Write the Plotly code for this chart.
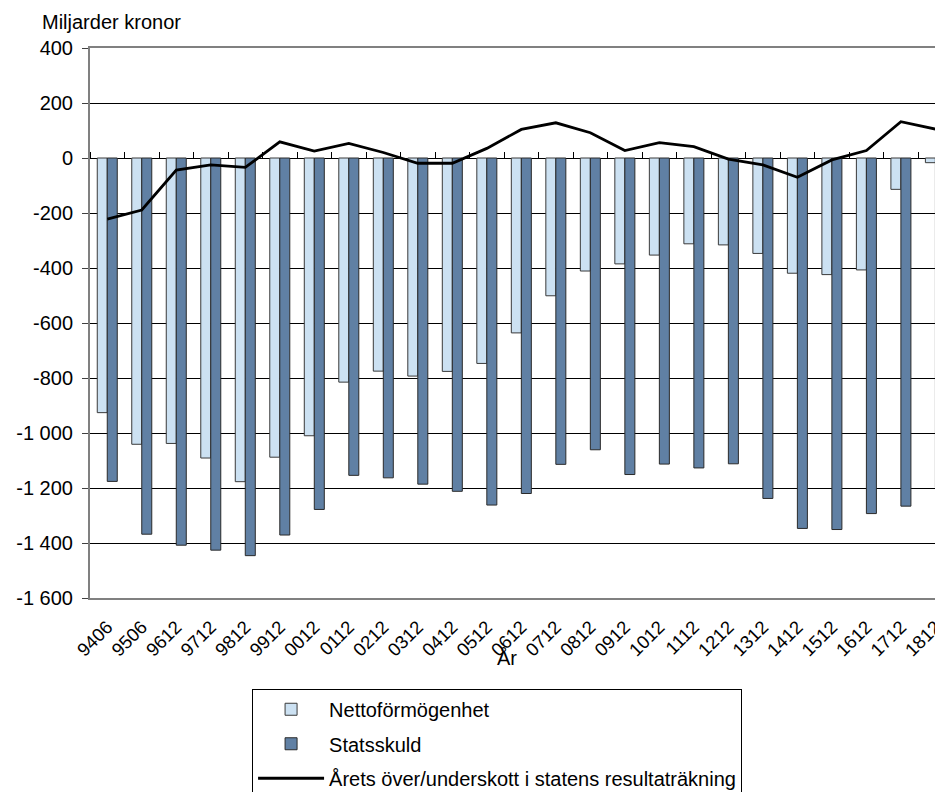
import plotly.graph_objects as go

# Tidpunkter (ååmm)
categories = ["9406", "9506", "9612", "9712", "9812", "9912", "0012", "0112",
              "0212", "0312", "0412", "0512", "0612", "0712", "0812", "0912",
              "1012", "1112", "1212", "1312", "1412", "1512", "1612", "1712", "1812"]

# Miljarder kronor
nettoformogenhet = [-926, -1041, -1038, -1091, -1177, -1088, -1010, -815,
                    -775, -793, -776, -747, -636, -501, -411, -385,
                    -353, -312, -316, -347, -419, -424, -407, -114, -17]
statsskuld = [-1176, -1368, -1408, -1426, -1446, -1371, -1278, -1154,
              -1163, -1186, -1212, -1262, -1220, -1114, -1061, -1151,
              -1113, -1127, -1112, -1238, -1347, -1351, -1293, -1266, -1198]
resultat = [-222, -189, -44, -25, -34, 59, 25, 53,
            20, -19, -19, 35, 104, 128, 92, 27,
            56, 41, -4, -25, -70, -7, 27, 132, 105]

y_tickvals = [400, 200, 0, -200, -400, -600, -800, -1000, -1200, -1400, -1600]
y_ticktext = ["400", "200", "0", "-200", "-400", "-600", "-800",
              "-1 000", "-1 200", "-1 400", "-1 600"]

FONT = "Liberation Sans, Arial, sans-serif"
FS = 20
# sista kategorin ska skäras av vid högerkanten, som i originalet
x_range = [-0.5, 24.22]

fig = go.Figure()
fig.add_trace(go.Bar(x=categories, y=nettoformogenhet, name="Nettoförmögenhet",
                     marker=dict(color="#CCE1F2", line=dict(color="#3a3a3a", width=1)),
                     legendgroup="a"))
fig.add_trace(go.Bar(x=categories, y=statsskuld, name="Statsskuld",
                     marker=dict(color="#6080A4", line=dict(color="#2a2a2a", width=1)),
                     legendgroup="b"))
fig.add_trace(go.Scatter(x=categories, y=resultat, mode="lines",
                         name="Årets över/underskott i statens resultaträkning",
                         line=dict(color="black", width=2.8),
                         xaxis="x2", legendgroup="c"))

# sidan har 8 px marginal, så figuren görs 8 px mindre åt båda hållen
fig.update_layout(
    width=935, height=784,
    margin=dict(l=82, r=0, t=40, b=194, autoexpand=False),
    paper_bgcolor="white", plot_bgcolor="white",
    font=dict(family=FONT, size=FS, color="black"),
    barmode="group", bargap=0.42, bargroupgap=0,
    showlegend=True,
    legend=dict(x=0.19, y=-0.165, xanchor="left", yanchor="top",
                bordercolor="black", borderwidth=1, tracegroupgap=5.5,
                font=dict(size=FS), itemwidth=66, bgcolor="white"),
    xaxis=dict(type="category", categoryorder="array", categoryarray=categories,
               range=x_range, tickangle=-45, ticks="", showgrid=False,
               showline=True, linecolor="#808080", linewidth=2, mirror=True,
               tickfont=dict(size=18.5), automargin=False,
               ticklabelstandoff=9),
    xaxis2=dict(type="category", categoryorder="array", categoryarray=categories,
                range=x_range, overlaying="x", anchor="free", position=0.8,
                side="top", tickson="boundaries", ticks="outside", ticklen=6,
                tickcolor="black", tickwidth=1, showticklabels=False,
                showgrid=False, showline=False, zeroline=False),
    yaxis=dict(range=[-1600, 400], tickvals=y_tickvals, ticktext=y_ticktext,
               showgrid=True, gridcolor="black", gridwidth=1, zeroline=False,
               showline=True, linecolor="#808080", linewidth=2,
               ticks="outside", ticklen=6, tickcolor="#404040",
               tickfont=dict(size=FS), automargin=False, ticklabelstandoff=5),
    annotations=[
        dict(text="Miljarder kronor", xref="paper", yref="paper",
             x=-0.0586, y=1.047, xanchor="left", yanchor="middle",
             showarrow=False, font=dict(size=FS)),
        dict(text="År", xref="paper", yref="paper",
             x=0.4889, y=-0.109, xanchor="center", yanchor="middle",
             showarrow=False, font=dict(size=FS)),
    ],
)

fig.write_html("out.html")
